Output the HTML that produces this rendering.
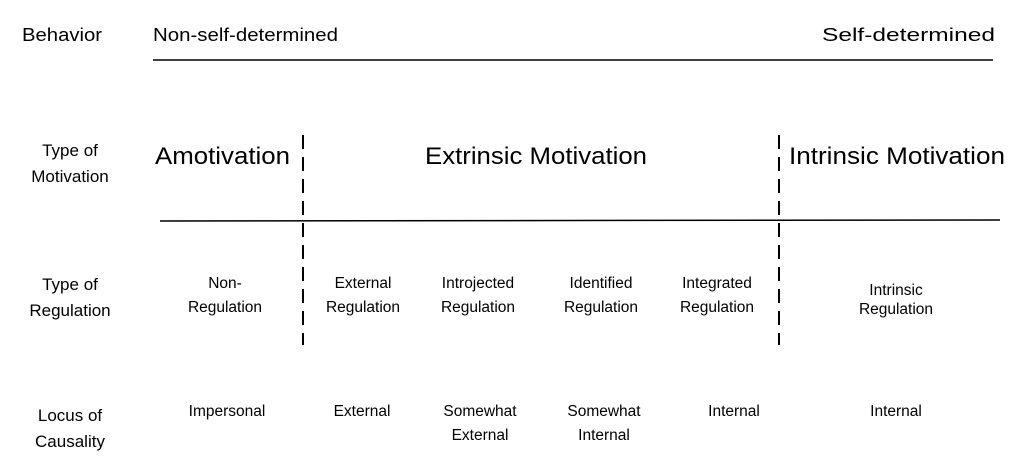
<!DOCTYPE html>
<html><head><meta charset="utf-8"><style>
html,body{margin:0;padding:0;background:#fff;}
svg{display:block;}
text{font-family:"Liberation Sans",sans-serif;fill:#000;}
</style></head><body>
<svg width="1024" height="468" viewBox="0 0 1024 468" xmlns="http://www.w3.org/2000/svg">
<g font-size="18">
<text x="22" y="41" textLength="80" lengthAdjust="spacingAndGlyphs">Behavior</text>
<text x="153" y="41" textLength="185" lengthAdjust="spacingAndGlyphs">Non-self-determined</text>
<text x="822" y="41" textLength="173" lengthAdjust="spacingAndGlyphs">Self-determined</text>
</g>
<line x1="153" y1="60" x2="993" y2="60" stroke="#000" stroke-width="1.5"/>
<g font-size="17" text-anchor="middle">
<text x="70" y="156">Type of</text>
<text x="70" y="182">Motivation</text>
<text x="70" y="290">Type of</text>
<text x="70" y="316">Regulation</text>
<text x="70" y="421">Locus of</text>
<text x="70" y="447">Causality</text>
</g>
<g font-size="24">
<text x="155" y="164" textLength="135" lengthAdjust="spacingAndGlyphs">Amotivation</text>
<text x="425" y="164" textLength="222" lengthAdjust="spacingAndGlyphs">Extrinsic Motivation</text>
<text x="789" y="164" textLength="216" lengthAdjust="spacingAndGlyphs">Intrinsic Motivation</text>
</g>
<line x1="303" y1="135" x2="303" y2="345" stroke="#000" stroke-width="2" stroke-dasharray="14,8"/>
<line x1="779" y1="135" x2="779" y2="345" stroke="#000" stroke-width="2" stroke-dasharray="14,8"/>
<line x1="160" y1="221" x2="1000" y2="220" stroke="#000" stroke-width="1.5"/>
<g font-size="15.5" text-anchor="middle">
<text x="225" y="288">Non-</text>
<text x="225" y="312">Regulation</text>
<text x="363" y="288">External</text>
<text x="363" y="312">Regulation</text>
<text x="478" y="288">Introjected</text>
<text x="478" y="312">Regulation</text>
<text x="601" y="288">Identified</text>
<text x="601" y="312">Regulation</text>
<text x="717" y="288">Integrated</text>
<text x="717" y="312">Regulation</text>
<text x="896" y="295">Intrinsic</text>
<text x="896" y="314">Regulation</text>
<text x="227" y="416">Impersonal</text>
<text x="362" y="416">External</text>
<text x="480" y="416">Somewhat</text>
<text x="480" y="440">External</text>
<text x="604" y="416">Somewhat</text>
<text x="604" y="440">Internal</text>
<text x="734" y="416">Internal</text>
<text x="896" y="416">Internal</text>
</g>
</svg>
</body></html>
